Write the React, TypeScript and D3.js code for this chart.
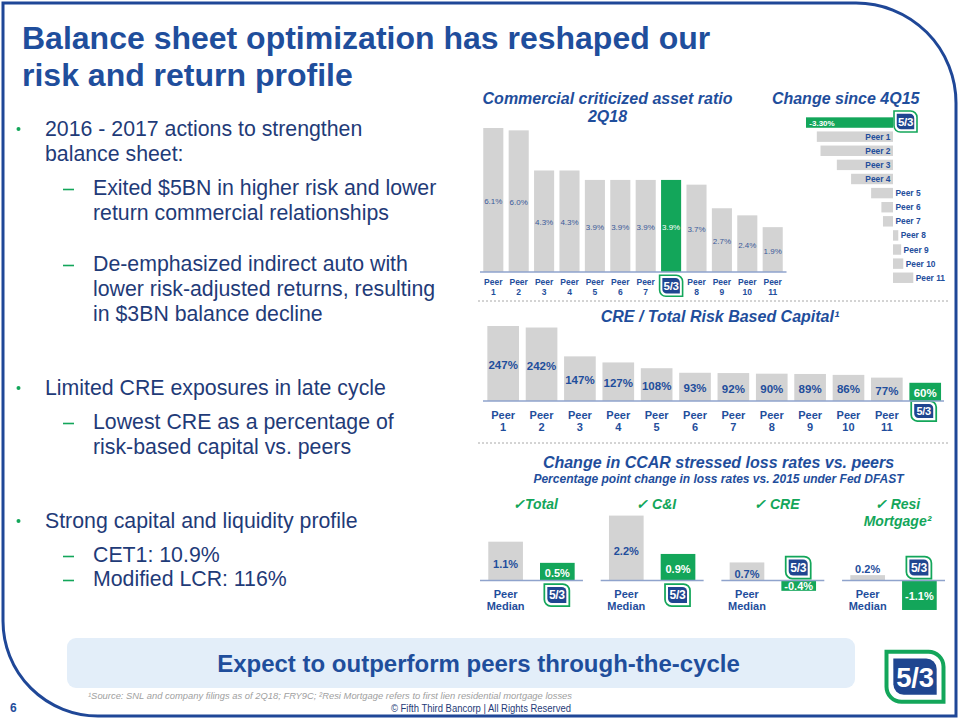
import React from 'react';
import * as d3 from 'd3';

const FONT = "'Liberation Sans', Arial, Helvetica, sans-serif";
const TITLE_BLUE = '#1f4e9c';
const TEXT_NAVY = '#1f3b78';
const GREEN = '#13a65a';
const BAR_GRAY = '#d3d3d3';
const AXIS = '#8fa3cc';
const FRAME = '#1f4797';
const LOGO_BLUE = '#1f4690';
const VALUE_BLUE = '#3b5a9a';

// ---------- text content ----------
const titleLines = ['Balance sheet optimization has reshaped our', 'risk and return profile'];
const bulletBlocks = [
  { level: 0, lines: ['2016 - 2017 actions to strengthen', 'balance sheet:'] },
  { level: 1, lines: ['Exited $5BN in higher risk and lower', 'return commercial relationships'] },
  { level: 1, lines: ['De-emphasized indirect auto with', 'lower risk-adjusted returns, resulting', 'in $3BN balance decline'] },
  { level: 0, lines: ['Limited CRE exposures in late cycle'] },
  { level: 1, lines: ['Lowest CRE as a percentage of', 'risk-based capital vs. peers'] },
  { level: 0, lines: ['Strong capital and liquidity profile'] },
  { level: 1, lines: ['CET1: 10.9%'] },
  { level: 1, lines: ['Modified LCR: 116%'] },
];

// ---------- chart 1: commercial criticized asset ratio ----------
const FITB = 'Fifth Third';
const critTitle = ['Commercial criticized asset ratio', '2Q18'];
const critCategories = ['Peer 1', 'Peer 2', 'Peer 3', 'Peer 4', 'Peer 5', 'Peer 6', 'Peer 7', FITB, 'Peer 8', 'Peer 9', 'Peer 10', 'Peer 11'];
const critValues = [6.1, 6.0, 4.3, 4.3, 3.9, 3.9, 3.9, 3.9, 3.7, 2.7, 2.4, 1.9];

// ---------- chart 2: change since 4Q15 ----------
const changeTitle = 'Change since 4Q15';
const changeCategories = [FITB, 'Peer 1', 'Peer 2', 'Peer 3', 'Peer 4', 'Peer 5', 'Peer 6', 'Peer 7', 'Peer 8', 'Peer 9', 'Peer 10', 'Peer 11'];
const changeValues = [-3.3, -2.89, -2.75, -2.13, -1.59, -0.83, -0.44, -0.38, 0.2, 0.31, 0.39, 0.77];

// ---------- chart 3: CRE / total risk based capital ----------
const creTitle = 'CRE / Total Risk Based Capital\u00B9';
const creCategories = ['Peer 1', 'Peer 2', 'Peer 3', 'Peer 4', 'Peer 5', 'Peer 6', 'Peer 7', 'Peer 8', 'Peer 9', 'Peer 10', 'Peer 11', FITB];
const creValues = [247, 242, 147, 127, 108, 93, 92, 90, 89, 86, 77, 60];

// ---------- chart 4: CCAR stressed loss rates ----------
const ccarTitle = 'Change in CCAR stressed loss rates vs. peers';
const ccarSubtitle = 'Percentage point change in loss rates vs. 2015 under Fed DFAST';
const ccarGroups = ['Total', 'C&I', 'CRE', 'Resi Mortgage'];
const ccarGroupTitles = [['\u2713Total'], ['\u2713 C&I'], ['\u2713 CRE'], ['\u2713 Resi', 'Mortgage\u00B2']];
const ccarSeries = ['Peer Median', FITB];
const ccarPeerMedian = [1.1, 2.2, 0.7, 0.2];
const ccarFifthThird = [0.5, 0.9, -0.4, -1.1];

const bannerText = 'Expect to outperform peers through-the-cycle';
const footnote = '\u00B9Source: SNL and company filings as of 2Q18; FRY9C; \u00B2Resi Mortgage refers to first lien residential mortgage losses';
const copyright = '\u00A9 Fifth Third Bancorp | All Rights Reserved';
const pageNumber = '6';

function cornerShape(x: number, y: number, w: number, h: number, r: number) {
  return `M${x},${y} H${x + w - r} A${r},${r} 0 0 1 ${x + w},${y + r} V${y + h} H${x + r} A${r},${r} 0 0 1 ${x},${y + h - r} Z`;
}

function Logo({ cx, cy, w, h }: { cx: number; cy: number; w: number; h: number }) {
  const x0 = cx - w / 2;
  const y0 = cy - h / 2;
  const r = Math.min(w, h) * 0.3;
  const sw = Math.max(1.2, w * 0.07);
  const inset = w * 0.12;
  return (
    <g>
      <path d={cornerShape(x0, y0, w, h, r)} fill="#fff" stroke={GREEN} strokeWidth={sw} />
      <path d={cornerShape(x0 + inset, y0 + inset, w - 2 * inset, h - 2 * inset, r * 0.7)} fill={LOGO_BLUE} />
      <text x={cx} y={cy} dy="0.36em" textAnchor="middle" fill="#fff" fontWeight="bold" fontSize={h * 0.55} fontFamily={FONT} letterSpacing={-0.3}>
        5/3
      </text>
    </g>
  );
}

function Bullets() {
  const blockY = [136, 195, 271, 395, 429, 528, 562, 586];
  const lineH = 25;
  return (
    <g fontFamily={FONT} fontSize={21.3} fill={TEXT_NAVY}>
      {bulletBlocks.map((b, i) => {
        const y0 = blockY[i];
        const tx = b.level === 0 ? 45 : 93;
        return (
          <g key={i}>
            {b.level === 0 ? (
              <circle cx={18.5} cy={y0 - 7} r={2} fill={GREEN} />
            ) : (
              <line x1={63} x2={74} y1={y0 - 5.5} y2={y0 - 5.5} stroke={GREEN} strokeWidth={1.6} />
            )}
            {b.lines.map((l, j) => (
              <text key={j} x={tx} y={y0 + j * lineH}>
                {l}
              </text>
            ))}
          </g>
        );
      })}
    </g>
  );
}

function CritChart() {
  const base = 272;
  const x = d3.scaleBand<string>().domain(critCategories).range([480.6, 785.4]).paddingInner(0.21).paddingOuter(0.105);
  const y = d3.scaleLinear().domain([0, 6.1]).range([base, 128]);
  return (
    <g fontFamily={FONT}>
      <text x={607.5} y={103.5} textAnchor="middle" fontSize={16} fontWeight="bold" fontStyle="italic" fill={TITLE_BLUE}>
        {critTitle[0]}
      </text>
      <text x={607.5} y={122} textAnchor="middle" fontSize={16} fontWeight="bold" fontStyle="italic" fill={TITLE_BLUE}>
        {critTitle[1]}
      </text>
      {critCategories.map((c, i) => {
        const v = critValues[i];
        const isF = c === FITB;
        const bx = x(c)!;
        const bw = x.bandwidth();
        const cx = bx + bw / 2;
        const [a, b] = c.split(' ');
        return (
          <g key={c}>
            <rect x={bx} y={y(v)} width={bw} height={base - y(v)} fill={isF ? GREEN : BAR_GRAY} />
            <text x={cx} y={(y(v) + base) / 2 + 4} textAnchor="middle" fontSize={8} fill={isF ? '#fff' : VALUE_BLUE}>
              {v.toFixed(1)}%
            </text>
            {isF ? (
              <Logo cx={cx} cy={285.8} w={23} h={21} />
            ) : (
              <g fontSize={8.5} fontWeight="bold" fill={TITLE_BLUE} textAnchor="middle">
                <text x={cx} y={285}>{a}</text>
                <text x={cx} y={294.5}>{b}</text>
              </g>
            )}
          </g>
        );
      })}
      <line x1={480} x2={786.5} y1={base} y2={base} stroke={AXIS} strokeWidth={1.5} />
    </g>
  );
}

function ChangeChart() {
  const y = d3.scaleBand<string>().domain(changeCategories).range([115.5, 284.8]).paddingInner(0.26).paddingOuter(0.13);
  const x = d3.scaleLinear().domain([-3.3, 0]).range([806, 893]);
  const x0 = x(0);
  return (
    <g fontFamily={FONT}>
      <text x={919.5} y={103.5} textAnchor="end" fontSize={16} fontWeight="bold" fontStyle="italic" fill={TITLE_BLUE}>
        {changeTitle}
      </text>
      {changeCategories.map((c, i) => {
        const v = changeValues[i];
        const isF = c === FITB;
        const by = y(c)!;
        const bh = y.bandwidth();
        const yc = by + bh / 2;
        const left = Math.min(x(v), x0);
        const right = Math.max(x(v), x0);
        let label: React.ReactNode;
        if (isF) {
          label = (
            <text x={x(v) + 3.3} y={yc + 3} fontSize={8} fontWeight="bold" fill="#fff">
              {v.toFixed(2)}%
            </text>
          );
        } else if (v < 0 && x0 - x(v) > 30) {
          label = (
            <text x={x0 - 2.5} y={yc + 3} textAnchor="end" fontSize={8.4} fontWeight="bold" fill={TITLE_BLUE}>
              {c}
            </text>
          );
        } else {
          label = (
            <text x={right + 2.4} y={yc + 3} fontSize={8.4} fontWeight="bold" fill={TITLE_BLUE}>
              {c}
            </text>
          );
        }
        return (
          <g key={c}>
            <rect x={left} y={by} width={right - left} height={bh} fill={isF ? GREEN : BAR_GRAY} />
            {label}
            {isF && <Logo cx={x0 + 12.5} cy={yc - 1} w={23} h={21} />}
          </g>
        );
      })}
    </g>
  );
}

function CreChart() {
  const base = 401;
  const x = d3.scaleBand<string>().domain(creCategories).range([484, 944.4]).paddingInner(0.175).paddingOuter(0.0875);
  const y = d3.scaleLinear().domain([0, 247]).range([base, 326]);
  return (
    <g fontFamily={FONT}>
      <text x={720} y={321.5} textAnchor="middle" fontSize={16} fontWeight="bold" fontStyle="italic" fill={TITLE_BLUE}>
        {creTitle}
      </text>
      {creCategories.map((c, i) => {
        const v = creValues[i];
        const isF = c === FITB;
        const bx = x(c)!;
        const bw = x.bandwidth();
        const cx = bx + bw / 2;
        const [a, b] = c.split(' ');
        return (
          <g key={c}>
            <rect x={bx} y={y(v)} width={bw} height={base - y(v)} fill={isF ? GREEN : BAR_GRAY} />
            <text x={cx} y={(y(v) + base) / 2 + 5.5} textAnchor="middle" fontSize={11.5} fontWeight="bold" fill={isF ? '#fff' : TITLE_BLUE}>
              {v}%
            </text>
            {isF ? (
              <Logo cx={cx - 1.5} cy={411} w={25} h={20} />
            ) : (
              <g fontSize={11} fontWeight="bold" fill={TITLE_BLUE} textAnchor="middle">
                <text x={cx} y={418.5}>{a}</text>
                <text x={cx} y={431}>{b}</text>
              </g>
            )}
          </g>
        );
      })}
      <line x1={483} x2={944} y1={base} y2={base} stroke={AXIS} strokeWidth={1.5} />
    </g>
  );
}

function CcarChart() {
  const base = 580.5;
  const gx = d3.scaleBand<string>().domain(ccarGroups).range([480, 945]).paddingInner(0.147);
  const inner = d3.scaleBand<string>().domain(ccarSeries).range([0, gx.bandwidth()]).paddingInner(0.33).paddingOuter(0.16);
  const pxPerPoint = [35.3, 29.5, 25.8, 26.8];
  return (
    <g fontFamily={FONT}>
      <text x={718.5} y={468} textAnchor="middle" fontSize={16} fontWeight="bold" fontStyle="italic" fill={TITLE_BLUE}>
        {ccarTitle}
      </text>
      <text x={718.5} y={483} textAnchor="middle" fontSize={12} fontWeight="bold" fontStyle="italic" fill={TITLE_BLUE}>
        {ccarSubtitle}
      </text>
      {ccarGroups.map((g, i) => {
        const g0 = gx(g)!;
        const gw = gx.bandwidth();
        const y = d3.scaleLinear().domain([0, 1]).range([base, base - pxPerPoint[i]]);
        const bw = inner.bandwidth();
        const pv = ccarPeerMedian[i];
        const fv = ccarFifthThird[i];
        const px = g0 + inner(ccarSeries[0])!;
        const fx = g0 + inner(ccarSeries[1])!;
        const pTop = Math.min(y(pv), base);
        const pH = Math.abs(base - y(pv));
        const fTop = Math.min(y(fv), base);
        const fH = Math.abs(base - y(fv));
        const pLabelY = pH < 14 ? y(pv) - 6 + 4 : (y(pv) + base) / 2 + 3 + 4;
        const fLabelY = (y(fv) + base) / 2 + (fv > 0 ? 1.8 : 0.8) + 4;
        const [pa, pb] = ccarSeries[0].split(' ');
        const titleLines = ccarGroupTitles[i];
        return (
          <g key={g}>
            {titleLines.map((t, j) => (
              <text key={j} x={g0 + gw / 2 + 4} y={509 + j * 17} textAnchor="middle" fontSize={14} fontWeight="bold" fontStyle="italic" fill={GREEN}>
                {t}
              </text>
            ))}
            <rect x={px} y={pTop} width={bw} height={pH} fill={BAR_GRAY} />
            <rect x={fx} y={fTop} width={bw} height={fH} fill={GREEN} />
            <line x1={g0} x2={g0 + gw} y1={base} y2={base} stroke={AXIS} strokeWidth={1.5} />
            <text x={px + bw / 2} y={pLabelY} textAnchor="middle" fontSize={11} fontWeight="bold" fill={TITLE_BLUE}>
              {pv.toFixed(1)}%
            </text>
            <text x={fx + bw / 2} y={fLabelY} textAnchor="middle" fontSize={11} fontWeight="bold" fill="#fff">
              {fv.toFixed(1)}%
            </text>
            <g fontSize={11} fontWeight="bold" fill={TITLE_BLUE} textAnchor="middle">
              <text x={px + bw / 2} y={base + 17}>{pa}</text>
              <text x={px + bw / 2} y={base + 29}>{pb}</text>
            </g>
            <Logo cx={fx + bw / 2 - 0.5} cy={fv > 0 ? base + 14.5 : base - 13} w={25} h={22} />
          </g>
        );
      })}
    </g>
  );
}

export default function App() {
  return (
    <svg width={960} height={720} viewBox="0 0 960 720" style={{ position: 'absolute', left: 0, top: 0, background: '#fff' }}>
      <rect x={0} y={0} width={960} height={720} fill="#fff" />
      {/* frame */}
      <path d={`M3,3 H856 A100,100 0 0 1 956,103 V716 H98 A95,95 0 0 1 3,621 Z`} fill="none" stroke={FRAME} strokeWidth={3} />
      {/* title */}
      <g fontFamily={FONT} fontWeight="bold" fontSize={32} fill={TITLE_BLUE}>
        <text x={22} y={49}>{titleLines[0]}</text>
        <text x={22} y={86}>{titleLines[1]}</text>
      </g>
      <Bullets />
      <CritChart />
      <ChangeChart />
      <line x1={478} x2={950} y1={301} y2={301} stroke="#a8a8a8" strokeWidth={1} strokeDasharray="2,2" />
      <CreChart />
      <line x1={478} x2={950} y1={443} y2={443} stroke="#a8a8a8" strokeWidth={1} strokeDasharray="2,2" />
      <CcarChart />
      {/* banner */}
      <rect x={67} y={638} width={788} height={50} rx={9} fill="#e3eef9" />
      <text x={478.5} y={671.5} textAnchor="middle" fontFamily={FONT} fontWeight="bold" fontSize={24} fill={TITLE_BLUE}>
        {bannerText}
      </text>
      <text x={88} y={699} fontFamily={FONT} fontStyle="italic" fontSize={9.5} fill="#a0a0a0" textLength={484} lengthAdjust="spacingAndGlyphs">
        {footnote}
      </text>
      <text x={391} y={712} fontFamily={FONT} fontSize={10} fill={TEXT_NAVY} textLength={180} lengthAdjust="spacingAndGlyphs">
        {copyright}
      </text>
      <text x={10} y={712} fontFamily={FONT} fontWeight="bold" fontSize={12} fill={TITLE_BLUE}>
        {pageNumber}
      </text>
      <Logo cx={915} cy={676.7} w={57} h={50} />
    </svg>
  );
}
